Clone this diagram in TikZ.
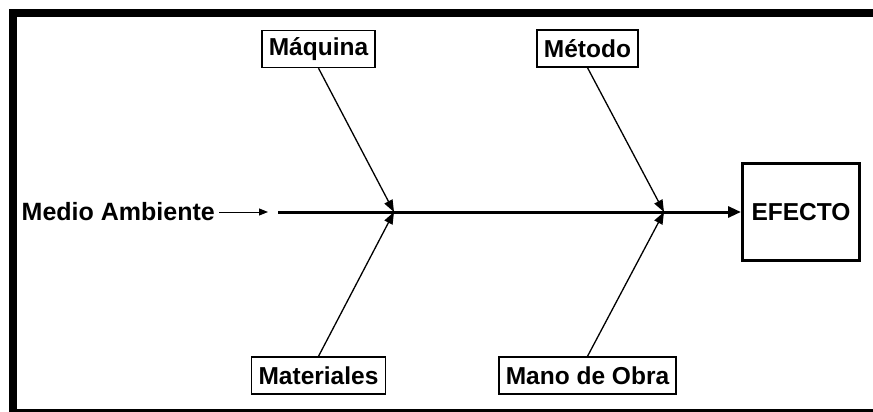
\documentclass[tikz,border=0pt]{standalone}
\usepackage{fontspec}
\setmainfont{Liberation Sans}
\usetikzlibrary{arrows.meta}
\begin{document}
\begin{tikzpicture}[x=1pt,y=-1pt,
  cause/.style={draw, line width=1.4pt, inner xsep=7pt, inner ysep=0pt, minimum height=37pt,
    font=\fontsize{24.5}{28}\selectfont\bfseries},
  effect/.style={draw, line width=3pt, minimum width=117pt, minimum height=97pt,
    font=\fontsize{24.5}{28}\selectfont\bfseries},
  plain/.style={inner sep=0pt, font=\fontsize{25}{28}\selectfont\bfseries},
  bone/.style={line width=1.3pt, -{Triangle[length=12pt,width=9pt]}},
  spine/.style={line width=3pt, -{Triangle[length=13pt,width=11pt]}},
  thin/.style={line width=1pt, -{Triangle[length=9pt,width=7pt]}}]
\useasboundingbox (0,0) rectangle (873,412);
\clip (0,0) rectangle (873,412);
\draw[line width=8pt] (13,13) rectangle (885,413);
\node[cause] (maq) at (318.5,49) {Máquina};
\node[cause] (met) at (587.5,48.5) {Método};
\node[cause] (mat) at (318.5,375.5) {Materiales};
\node[cause] (mo) at (587.5,375.5) {Mano de Obra};
\node[effect] (ef) at (801,212) {EFECTO};
\node[plain, anchor=east] (ma) at (215,212) {Medio Ambiente};
\coordinate (j1) at (394,212);
\coordinate (j2) at (664,212);
\coordinate (s) at (278,212);
\coordinate (ma2) at (268,212);
\draw[thin] ([xshift=4pt]ma.east) -- (ma2);
\draw[spine] (s) -- (ef.west);
\draw[bone] (maq.south) -- (j1);
\draw[bone] (mat.north) -- (j1);
\draw[bone] (met.south) -- (j2);
\draw[bone] (mo.north) -- (j2);
\end{tikzpicture}
\end{document}
